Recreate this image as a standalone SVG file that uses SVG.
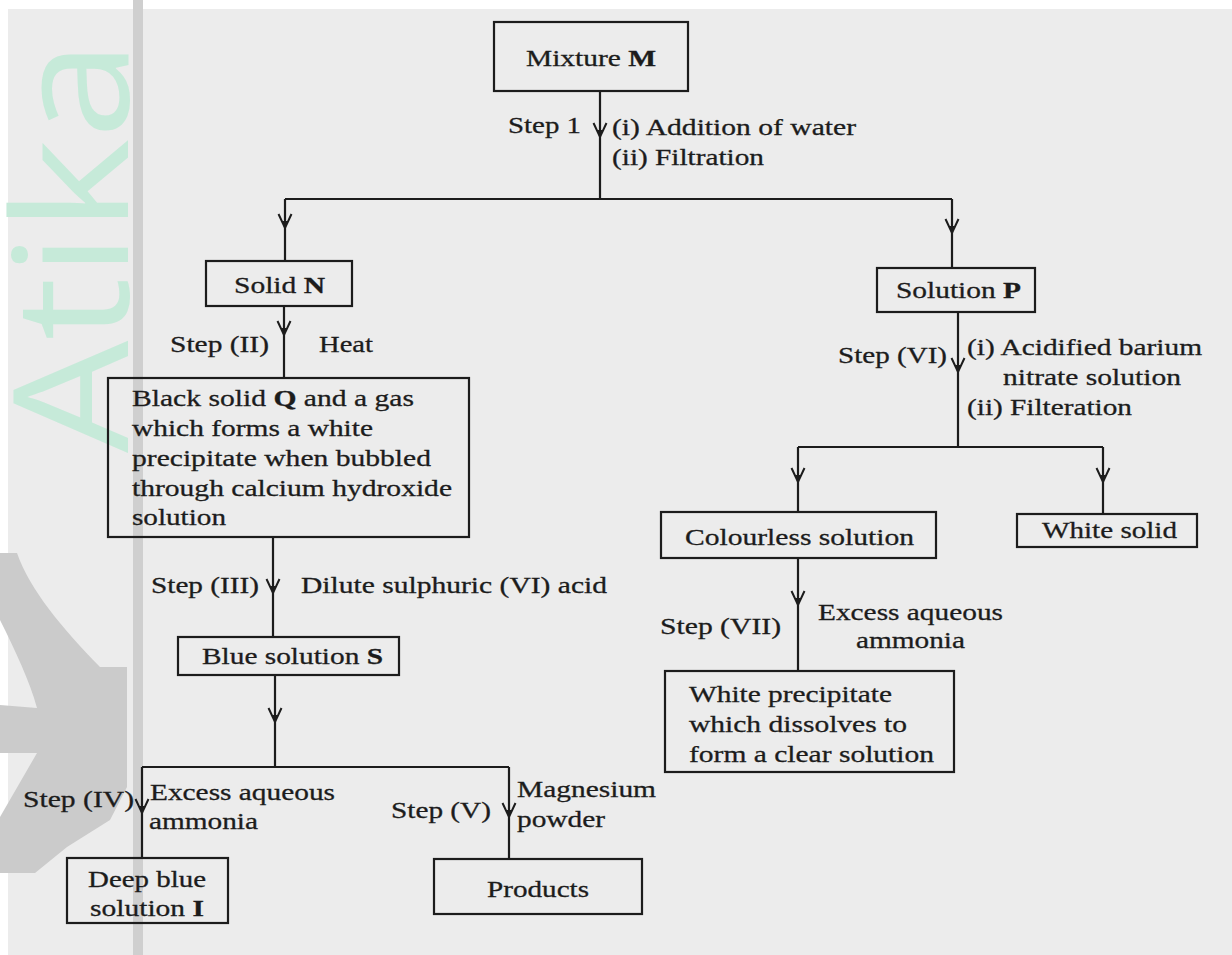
<svg xmlns="http://www.w3.org/2000/svg" xmlns:xlink="http://www.w3.org/1999/xlink" width="1232" height="955" viewBox="0 0 1232 955">
<style>
.bx{fill:none;stroke:#1c1c1c;stroke-width:2.2}
.ln{fill:none;stroke:#1c1c1c;stroke-width:2.2}
.t{font-family:"Liberation Serif","Times New Roman",serif;font-size:24px;fill:#1c1c1c;stroke:#1c1c1c;stroke-width:0.3}
.b{font-weight:bold}
</style>
<defs>
<g id="ah"><path d="M-6.5,-14 L0,0 L6.5,-14" fill="none" stroke="#1c1c1c" stroke-width="2"/><path d="M-3.5,-7 L0,0 L3.5,-7 Z" fill="#1c1c1c"/></g>
</defs>
<rect x="0" y="0" width="1232" height="955" fill="#ffffff"/>
<rect x="8" y="9" width="1224" height="946" fill="#ececec"/>
<g id="watermark">
<path d="M0,553 L17,553 C30,590 62,628 100,667 L127,667 L127,787 L110,820 L67,847 L35,873 L0,873 L0,817 L37,753 L0,753 L0,705 L37,708 C30,682 15,650 0,620 Z" fill="#cbcbcb"/>
<text font-family="'Open Sans',sans-serif" font-size="160" fill="#c6ead9" transform="translate(128 453) rotate(-90)" textLength="413" lengthAdjust="spacingAndGlyphs">Atika</text>
<rect x="133" y="0" width="10" height="955" fill="#cfcfcf"/>
</g>
<g id="connectors">
<path class="ln" d="M600,91 V199 M285,199 H952 M285,199 V261 M952,199 V268"/>
<path class="ln" d="M284,306 V378"/>
<path class="ln" d="M273,537 V637"/>
<path class="ln" d="M275,675 V767 M142,767 H509 M142,767 V858 M509,767 V859"/>
<path class="ln" d="M958,312 V447 M798,447 H1103 M798,447 V512 M1103,447 V514"/>
<path class="ln" d="M798,558 V671"/>
<use xlink:href="#ah" x="600" y="137"/>
<use xlink:href="#ah" x="285" y="228"/>
<use xlink:href="#ah" x="952" y="233"/>
<use xlink:href="#ah" x="284" y="335"/>
<use xlink:href="#ah" x="273" y="593"/>
<use xlink:href="#ah" x="275" y="722"/>
<use xlink:href="#ah" x="142" y="813"/>
<use xlink:href="#ah" x="509" y="817"/>
<use xlink:href="#ah" x="958" y="372"/>
<use xlink:href="#ah" x="798" y="482"/>
<use xlink:href="#ah" x="1103" y="482"/>
<use xlink:href="#ah" x="798" y="605"/>
</g>
<g id="labels">
<text class="t" x="508" y="133" textLength="73" lengthAdjust="spacingAndGlyphs">Step 1</text>
<text class="t" x="612" y="135" textLength="244" lengthAdjust="spacingAndGlyphs">(i) Addition of water</text>
<text class="t" x="612" y="165" textLength="152" lengthAdjust="spacingAndGlyphs">(ii) Filtration</text>
<text class="t" x="170" y="352" textLength="99" lengthAdjust="spacingAndGlyphs">Step (II)</text>
<text class="t" x="319" y="352" textLength="54" lengthAdjust="spacingAndGlyphs">Heat</text>
<text class="t" x="151" y="593" textLength="108" lengthAdjust="spacingAndGlyphs">Step (III)</text>
<text class="t" x="301" y="593" textLength="306" lengthAdjust="spacingAndGlyphs">Dilute sulphuric (VI) acid</text>
<text class="t" x="23" y="807" textLength="111" lengthAdjust="spacingAndGlyphs">Step (IV)</text>
<text class="t" x="150" y="800" textLength="185" lengthAdjust="spacingAndGlyphs">Excess aqueous</text>
<text class="t" x="149" y="829" textLength="109" lengthAdjust="spacingAndGlyphs">ammonia</text>
<text class="t" x="391" y="818" textLength="100" lengthAdjust="spacingAndGlyphs">Step (V)</text>
<text class="t" x="517" y="797" textLength="139" lengthAdjust="spacingAndGlyphs">Magnesium</text>
<text class="t" x="517" y="827" textLength="88" lengthAdjust="spacingAndGlyphs">powder</text>
<text class="t" x="838" y="363" textLength="109" lengthAdjust="spacingAndGlyphs">Step (VI)</text>
<text class="t" x="967" y="355" textLength="235" lengthAdjust="spacingAndGlyphs">(i) Acidified barium</text>
<text class="t" x="1003" y="385" textLength="178" lengthAdjust="spacingAndGlyphs">nitrate solution</text>
<text class="t" x="967" y="415" textLength="165" lengthAdjust="spacingAndGlyphs">(ii) Filteration</text>
<text class="t" x="660" y="634" textLength="121" lengthAdjust="spacingAndGlyphs">Step (VII)</text>
<text class="t" x="818" y="620" textLength="185" lengthAdjust="spacingAndGlyphs">Excess aqueous</text>
<text class="t" x="856" y="648" textLength="109" lengthAdjust="spacingAndGlyphs">ammonia</text>
</g>
<g id="node-mixture-m">
<rect class="bx" x="494" y="22" width="194" height="69"/>
<text class="t" x="526" y="66" textLength="130" lengthAdjust="spacingAndGlyphs">Mixture <tspan class="b">M</tspan></text>
</g>
<g id="node-solid-n">
<rect class="bx" x="206" y="261" width="146" height="45"/>
<text class="t" x="234" y="293" textLength="91" lengthAdjust="spacingAndGlyphs">Solid <tspan class="b">N</tspan></text>
</g>
<g id="node-solution-p">
<rect class="bx" x="877" y="268" width="158" height="44"/>
<text class="t" x="896" y="298" textLength="125" lengthAdjust="spacingAndGlyphs">Solution <tspan class="b">P</tspan></text>
</g>
<g id="node-black-solid-q">
<rect class="bx" x="108" y="378" width="361" height="159"/>
<text class="t" x="132" y="406" textLength="282" lengthAdjust="spacingAndGlyphs">Black solid <tspan class="b">Q</tspan> and a gas</text>
<text class="t" x="132" y="436" textLength="241" lengthAdjust="spacingAndGlyphs">which forms a white</text>
<text class="t" x="132" y="466" textLength="299" lengthAdjust="spacingAndGlyphs">precipitate when bubbled</text>
<text class="t" x="132" y="496" textLength="320" lengthAdjust="spacingAndGlyphs">through calcium hydroxide</text>
<text class="t" x="132" y="525" textLength="94" lengthAdjust="spacingAndGlyphs">solution</text>
</g>
<g id="node-blue-solution-s">
<rect class="bx" x="178" y="637" width="221" height="38"/>
<text class="t" x="202" y="664" textLength="181" lengthAdjust="spacingAndGlyphs">Blue solution <tspan class="b">S</tspan></text>
</g>
<g id="node-deep-blue-i">
<rect class="bx" x="67" y="858" width="161" height="65"/>
<text class="t" x="88" y="887" textLength="118" lengthAdjust="spacingAndGlyphs">Deep blue</text>
<text class="t" x="90" y="916" textLength="114" lengthAdjust="spacingAndGlyphs">solution <tspan class="b">I</tspan></text>
</g>
<g id="node-products">
<rect class="bx" x="434" y="859" width="208" height="55"/>
<text class="t" x="487" y="897" textLength="102" lengthAdjust="spacingAndGlyphs">Products</text>
</g>
<g id="node-colourless-solution">
<rect class="bx" x="661" y="512" width="275" height="46"/>
<text class="t" x="685" y="545" textLength="229" lengthAdjust="spacingAndGlyphs">Colourless solution</text>
</g>
<g id="node-white-solid">
<rect class="bx" x="1017" y="514" width="180" height="33"/>
<text class="t" x="1042" y="538" textLength="135" lengthAdjust="spacingAndGlyphs">White solid</text>
</g>
<g id="node-white-precipitate">
<rect class="bx" x="665" y="671" width="289" height="101"/>
<text class="t" x="689" y="702" textLength="203" lengthAdjust="spacingAndGlyphs">White precipitate</text>
<text class="t" x="689" y="732" textLength="218" lengthAdjust="spacingAndGlyphs">which dissolves to</text>
<text class="t" x="689" y="762" textLength="245" lengthAdjust="spacingAndGlyphs">form a clear solution</text>
</g>
</svg>
